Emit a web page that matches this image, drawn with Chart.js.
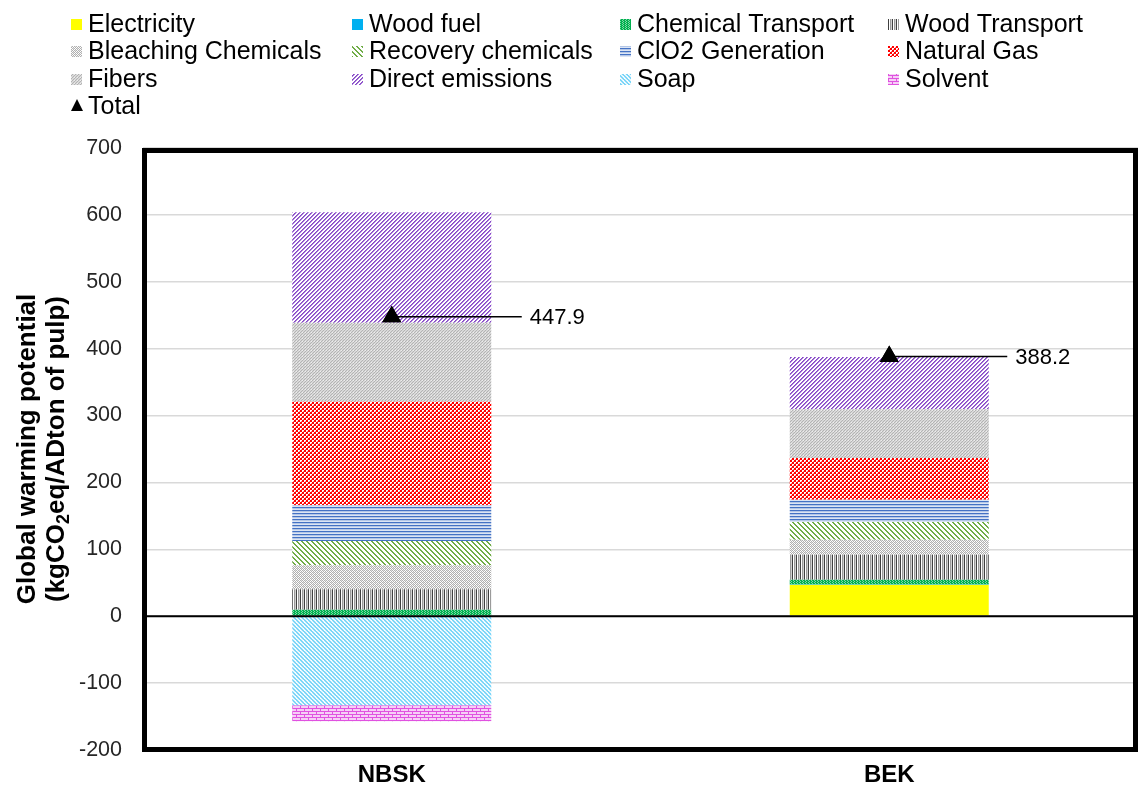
<!DOCTYPE html>
<html>
<head>
<meta charset="utf-8">
<script src="https://cdn.jsdelivr.net/npm/chart.js@4.4.1/dist/chart.umd.min.js"></script>
<style>
  html, body { margin: 0; padding: 0; background: #fff; }
  #chart { display: block; }
</style>
</head>
<body>
<canvas id="chart" width="1138" height="788"></canvas>
<script>
// values (kgCO2eq/ADton of pulp)
var categories = ['NBSK', 'BEK'];
var electricity = [0, 47];
var woodFuel = [0, 1.2];
var chemTransport = [9.7, 6.5];
var woodTransport = [30.7, 37.3];
var bleaching = [35.9, 22.4];
var recovery = [36.3, 26.4];
var clo2 = [53.4, 33.5];
var naturalGas = [154.5, 62.3];
var fibers = [118.2, 72.8];
var direct = [165.1, 78.3];
var soap = [-133, 0];
var solvent = [-24, 0];
var total = [447.9, 388.2];
var yTicks = [-200, -100, 0, 100, 200, 300, 400, 500, 600, 700];

var FONT = "'Liberation Sans', Arial, sans-serif";

// small canvas patterns, like the excel fills
function makePattern(w, h, bg, draw) {
  var c = document.createElement('canvas');
  c.width = w; c.height = h;
  var g = c.getContext('2d');
  g.fillStyle = bg;
  g.fillRect(0, 0, w, h);
  draw(g);
  return document.getElementById('chart').getContext('2d').createPattern(c, 'repeat');
}
function px(g, col, list) {
  g.fillStyle = col;
  list.forEach(function(p) { g.fillRect(p[0], p[1], p[2] || 1, p[3] || 1); });
}

var pChem = makePattern(3, 2, '#00B050', function(g) {
  px(g, '#7FD8A6', [[1, 0], [2, 1]]);
});
var pWoodTr = makePattern(4, 1, '#FFFFFF', function(g) {
  px(g, '#404040', [[0, 0]]);
  px(g, '#9A9A9A', [[2, 0]]);
  px(g, '#D0D0D0', [[3, 0]]);
});
var pBleach = makePattern(4, 4, '#FFFFFF', function(g) {
  px(g, '#B0B0B0', [[0, 0], [2, 0], [1, 1], [3, 1], [0, 2], [3, 3], [1, 3], [2, 2]]);
  px(g, '#E0E0E0', [[1, 0], [3, 2]]);
});
var pRecov = makePattern(5, 5, '#FFFFFF', function(g) {
  for (var i = 0; i < 5; i++) px(g, '#70AD47', [[i, i, 2, 1]]);
  px(g, '#70AD47', [[0, 4]]);
});
var pClo2 = makePattern(1, 3, '#B4C7E7', function(g) {
  px(g, '#4472C4', [[0, 0]]);
  px(g, '#DCE5F4', [[0, 2]]);
});
var pGas = makePattern(4, 4, '#FF0000', function(g) {
  px(g, '#FFFFFF', [[0, 0, 2, 2], [2, 2, 2, 2]]);
  px(g, '#FF8080', [[1, 1], [3, 3]]);
});
var pFibers = makePattern(3, 3, '#D9D9D9', function(g) {
  px(g, '#B3B3B3', [[0, 2], [1, 1], [2, 0]]);
  px(g, '#EDEDED', [[2, 2]]);
});
var pDirect = makePattern(4, 4, '#FFFFFF', function(g) {
  for (var i = 0; i < 4; i++) px(g, '#8647C6', [[3 - i, i, 1, 1]]);
  for (var j = 0; j < 4; j++) px(g, '#A678D8', [[(4 - j) % 4, j, 1, 1]]);
});
var pSoap = makePattern(4, 4, '#E6F7FE', function(g) {
  px(g, '#7DD6F8', [[0, 0, 2, 1], [1, 1, 2, 1], [2, 2, 2, 1], [3, 3, 1, 1], [0, 3, 1, 1]]);
  px(g, '#FFFFFF', [[3, 0], [0, 2]]);
});
var pSolvent = makePattern(8, 6, '#F6CFF6', function(g) {
  px(g, '#E052E0', [[0, 0, 8, 1], [0, 3, 8, 1], [0, 1, 1, 2], [4, 4, 1, 2]]);
});

function bars(label, data, fill) {
  return {
    type: 'bar', label: label, data: data, backgroundColor: fill,
    borderWidth: 0, stack: 'gwp', order: 2,
    barPercentage: 0.4, categoryPercentage: 1.0
  };
}

// leader line + value label for the total markers
var totalLabels = {
  id: 'totalLabels',
  afterDatasetsDraw: function(chart, args, opts) {
    var ctx = chart.ctx;
    var meta = chart.getDatasetMeta(chart.data.datasets.length - 1);
    ctx.save();
    meta.data.forEach(function(pt, i) {
      var x2 = pt.x + opts.lineLen[i];
      ctx.strokeStyle = '#000';
      ctx.lineWidth = 1.5;
      ctx.beginPath();
      ctx.moveTo(pt.x, pt.y);
      ctx.lineTo(x2, pt.y);
      ctx.stroke();
      ctx.fillStyle = '#000';
      ctx.font = '22px ' + FONT;
      ctx.textBaseline = 'middle';
      ctx.textAlign = 'left';
      ctx.fillText(total[i].toFixed(1), x2 + 8, pt.y + 1);
    });
    // redraw markers on top of the leader lines
    meta.data.forEach(function(pt) { pt.draw(ctx, chart.chartArea); });
    ctx.restore();
  }
};

// thick plot frame and the black zero line
var frame = {
  id: 'frame',
  afterDatasetsDraw: function(chart) {
    var ctx = chart.ctx, a = chart.chartArea;
    var y0 = chart.scales.y.getPixelForValue(0);
    ctx.save();
    ctx.strokeStyle = '#000';
    ctx.lineWidth = 2;
    ctx.beginPath();
    ctx.moveTo(a.left, y0);
    ctx.lineTo(a.right, y0);
    ctx.stroke();
    ctx.lineWidth = 5;
    ctx.strokeRect(a.left + 1.5, a.top + 2.5, a.right - a.left - 4, a.bottom - a.top - 3);
    ctx.restore();
  }
};

// axis title with subscript 2
var yTitle = {
  id: 'yTitle',
  afterDraw: function(chart) {
    var ctx = chart.ctx, a = chart.chartArea;
    var cy = (a.top + a.bottom) / 2;
    ctx.save();
    ctx.fillStyle = '#000';
    ctx.textBaseline = 'middle';
    ctx.translate(28, cy);
    ctx.rotate(-Math.PI / 2);
    ctx.font = 'bold 26px ' + FONT;
    ctx.textAlign = 'center';
    ctx.fillText('Global warming potential', 0, 0);
    ctx.restore();

    ctx.save();
    ctx.fillStyle = '#000';
    ctx.textBaseline = 'middle';
    ctx.translate(57, cy);
    ctx.rotate(-Math.PI / 2);
    var big = 'bold 26px ' + FONT, small = 'bold 18px ' + FONT;
    var p1 = '(kgCO', p2 = '2', p3 = 'eq/ADton of pulp)';
    ctx.font = big; var w1 = ctx.measureText(p1).width, w3 = ctx.measureText(p3).width;
    ctx.font = small; var w2 = ctx.measureText(p2).width;
    var x = -(w1 + w2 + w3) / 2;
    ctx.textAlign = 'left';
    ctx.font = big; ctx.fillText(p1, x, 0);
    ctx.font = small; ctx.fillText(p2, x + w1, 7);
    ctx.font = big; ctx.fillText(p3, x + w1 + w2, 0);
    ctx.restore();
  }
};

// legend laid out in the 4 column grid of the original
var gridLegend = {
  id: 'gridLegend',
  afterDraw: function(chart) {
    var ctx = chart.ctx;
    var textX = [88, 369, 637, 905];
    var rowY = [24, 51, 79, 106];
    ctx.save();
    ctx.font = '25px ' + FONT;
    ctx.textBaseline = 'middle';
    ctx.textAlign = 'left';
    chart.data.datasets.forEach(function(ds, i) {
      var tx = textX[i % 4], y = rowY[Math.floor(i / 4)];
      var x = tx - 17;
      if (ds.type === 'line') {
        ctx.fillStyle = '#000';
        ctx.beginPath();
        ctx.moveTo(x + 6, y - 7);
        ctx.lineTo(x + 12, y + 5);
        ctx.lineTo(x, y + 5);
        ctx.closePath();
        ctx.fill();
      } else {
        ctx.fillStyle = ds.backgroundColor;
        ctx.fillRect(x, y - 5, 11, 11);
      }
      ctx.fillStyle = '#000';
      ctx.fillText(ds.label, tx, y + 1);
    });
    ctx.restore();
  }
};

var config = {
  type: 'bar',
  data: {
    labels: categories,
    datasets: [
      bars('Electricity', electricity, '#FFFF00'),
      bars('Wood fuel', woodFuel, '#00B0F0'),
      bars('Chemical Transport', chemTransport, pChem),
      bars('Wood Transport', woodTransport, pWoodTr),
      bars('Bleaching Chemicals', bleaching, pBleach),
      bars('Recovery chemicals', recovery, pRecov),
      bars('ClO2 Generation', clo2, pClo2),
      bars('Natural Gas', naturalGas, pGas),
      bars('Fibers', fibers, pFibers),
      bars('Direct emissions', direct, pDirect),
      bars('Soap', soap, pSoap),
      bars('Solvent', solvent, pSolvent),
      {
        type: 'line', label: 'Total', data: total, stack: 'total', order: 1,
        showLine: false, pointStyle: 'triangle', pointRadius: 11,
        backgroundColor: '#000', borderColor: '#000', borderWidth: 0
      }
    ]
  },
  options: {
    responsive: false,
    animation: false,
    layout: { autoPadding: false, padding: { top: 148, left: 0, right: 0, bottom: 0 } },
    plugins: {
      legend: { display: false },
      tooltip: { enabled: false },
      totalLabels: { lineLen: [130, 118] }
    },
    scales: {
      x: {
        stacked: true,
        grid: { display: false, drawTicks: false },
        border: { display: false },
        ticks: { color: '#000', font: { family: FONT, size: 24, weight: 'bold' }, padding: 11 },
        afterFit: function(s) { s.height = 38; }
      },
      y: {
        stacked: true,
        min: -200, max: 700,
        afterBuildTicks: function(s) { s.ticks = yTicks.map(function(v) { return { value: v }; }); },
        grid: { color: '#D9D9D9', lineWidth: 1.5, drawTicks: false },
        border: { display: false },
        ticks: { color: '#262626', font: { family: FONT, size: 21.5 }, padding: 21 },
        afterFit: function(s) { s.width = 143; }
      }
    }
  },
  plugins: [frame, totalLabels, yTitle, gridLegend]
};

var ctx = document.getElementById('chart').getContext('2d');
window.myChart = new Chart(ctx, config);
</script>
</body>
</html>
